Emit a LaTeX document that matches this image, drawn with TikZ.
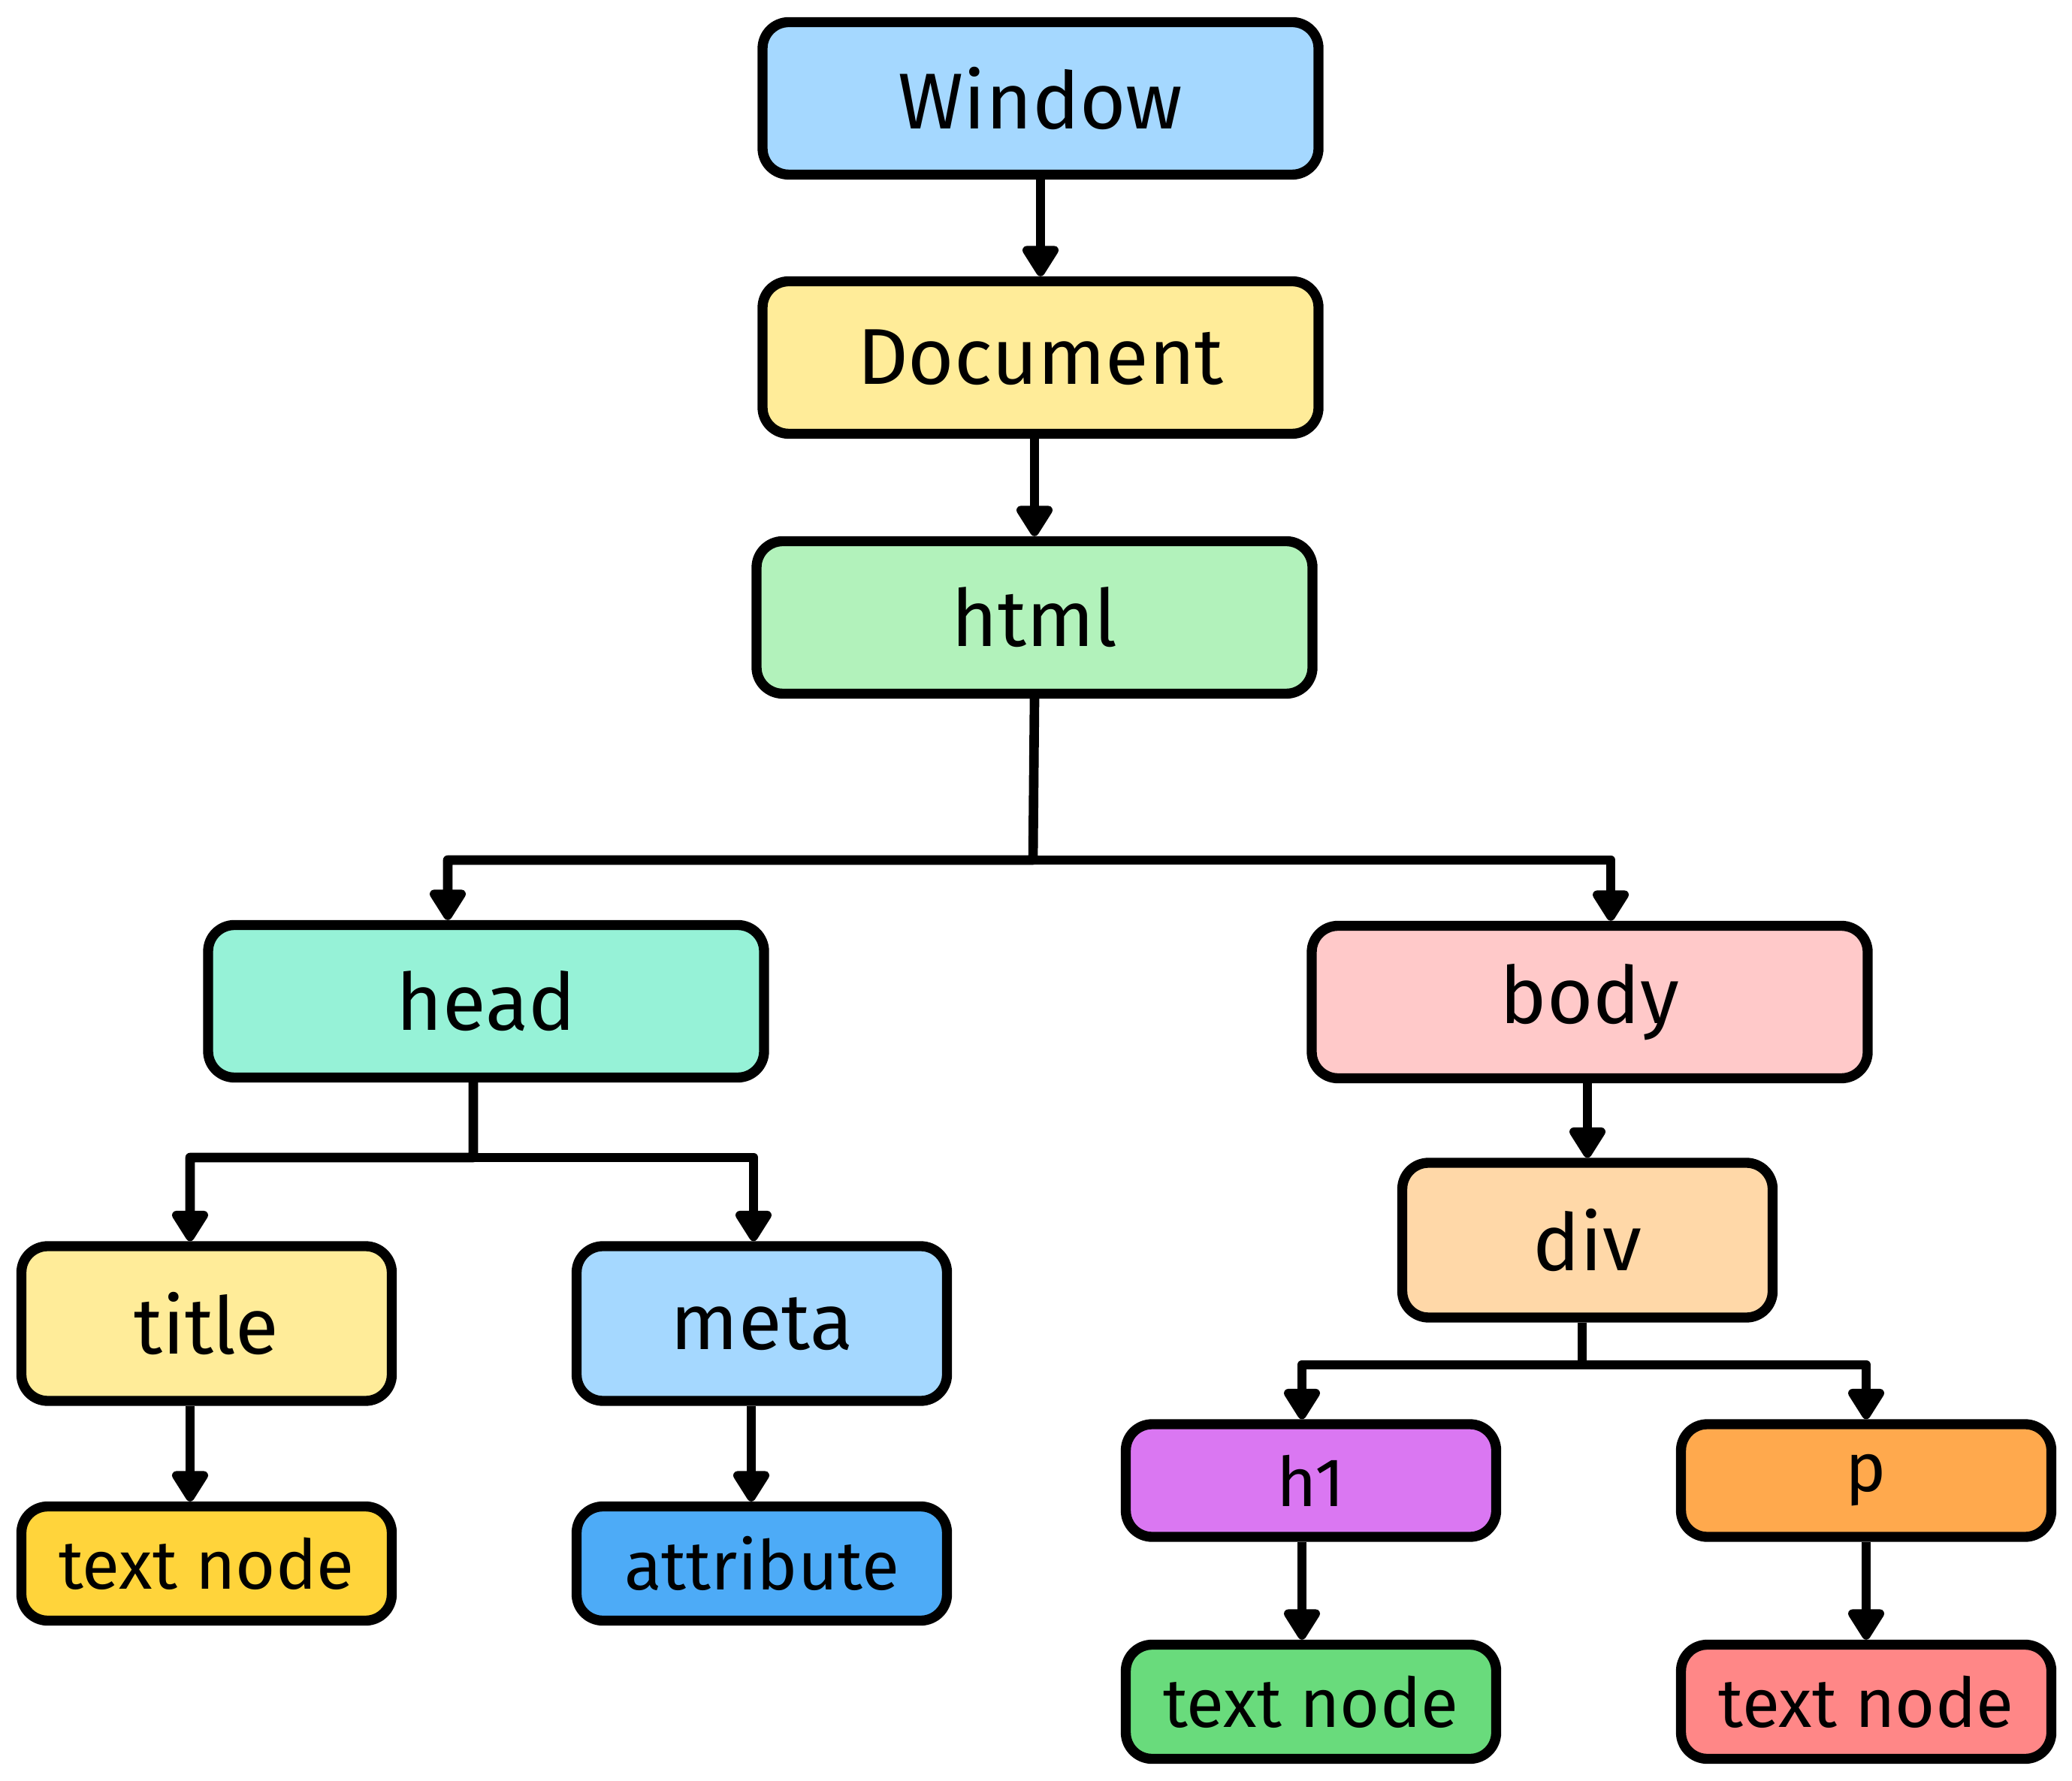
\documentclass[tikz,border=0pt]{standalone}
\usepackage{fontspec}
\setmainfont{Fira Sans}
\usepackage{xcolor}
\usetikzlibrary{arrows.meta}
\definecolor{blueA}{HTML}{A5D8FF}
\definecolor{yellowA}{HTML}{FFEC99}
\definecolor{greenA}{HTML}{B2F2BB}
\definecolor{tealA}{HTML}{96F2D7}
\definecolor{pinkA}{HTML}{FFC9C9}
\definecolor{yellowB}{HTML}{FFD43B}
\definecolor{blueB}{HTML}{4DABF7}
\definecolor{orangeA}{HTML}{FFD8A8}
\definecolor{violetB}{HTML}{DA77F2}
\definecolor{orangeB}{HTML}{FFA94D}
\definecolor{greenB}{HTML}{69DB7C}
\definecolor{redB}{HTML}{FF8787}

\begin{document}
\begin{tikzpicture}[
    domnode/.style={draw, line width=3.8pt, rounded corners=0.35cm, align=center},
    bigbox/.style={domnode, minimum width=7.4cm, minimum height=2.03cm, font=\fontsize{30}{36}\selectfont},
    midbox/.style={domnode, minimum width=4.93cm, minimum height=2.06cm, font=\fontsize{30}{36}\selectfont},
    smallbox/.style={domnode, minimum width=4.93cm, minimum height=1.52cm, font=\fontsize{26}{32}\selectfont},
    link/.style={line width=3.6pt, line join=round, -{Triangle[length=4.6mm, width=5.4mm, round]}}
  ]
  \useasboundingbox (0,0) rectangle (27.58,23.70);

  % top chain
  \node[bigbox, fill=blueA] (window) at (13.85,22.39) {Window};
  \node[bigbox, fill=yellowA] (document) at (13.85,18.94) {Document};
  \node[bigbox, fill=greenA] (html) at (13.77,15.48) {html};

  % second level
  \node[bigbox, fill=tealA] (head) at (6.47,10.37) {head};
  \node[bigbox, fill=pinkA] (body) at (21.16,10.36) {body};

  % under head
  \node[midbox, fill=yellowA] (title) at (2.75,6.08) {title};
  \node[midbox, fill=blueA] (meta) at (10.14,6.08) {meta};
  \node[smallbox, fill=yellowB] (titletext) at (2.75,2.885) {text node};
  \node[smallbox, fill=blueB] (attr) at (10.14,2.885) {attribute};

  % under body
  \node[midbox, fill=orangeA] (div) at (21.13,7.19) {div};
  \node[smallbox, minimum height=1.5cm, fill=violetB] (hone) at (17.45,3.99) {h1};
  \node[smallbox, minimum height=1.5cm, fill=orangeB] (para) at (24.84,3.99) {p};
  \node[smallbox, fill=greenB] (honetext) at (17.45,1.045) {text node};
  \node[smallbox, fill=redB] (paratext) at (24.84,1.045) {text node};

  \draw[link] (window.south) -- (document.north);
  \draw[link] (document.south -| html.north) -- (html.north);

  \coordinate (jhtml) at (13.75,12.25);
  \draw[link] (html.south) -- (jhtml) -| ([xshift=-5.1mm]head.north);
  \draw[link] (jhtml) -| ([xshift=2.8mm]body.north);

  \coordinate (jhead) at (6.30,8.29);
  \draw[link] ([xshift=-1.7mm]head.south) -- (jhead) -| ([xshift=-2.2mm]title.north);
  \draw[link] (jhead) -| ([xshift=-1.1mm]meta.north);
  \draw[link] ([xshift=-2.2mm]title.south) -- ([xshift=-2.2mm]titletext.north);
  \draw[link] ([xshift=-1.4mm]meta.south) -- ([xshift=-1.4mm]attr.north);

  \draw[link] (div.north |- body.south) -- (div.north);
  \coordinate (jdiv) at (21.06,5.53);
  \draw[link] (div.south -| jdiv) -- (jdiv) -| ([xshift=-1.2mm]hone.north);
  \draw[link] (jdiv) -| (para.north);
  \draw[link] ([xshift=-1.2mm]hone.south) -- ([xshift=-1.2mm]honetext.north);
  \draw[link] (para.south) -- (paratext.north);
\end{tikzpicture}
\end{document}
